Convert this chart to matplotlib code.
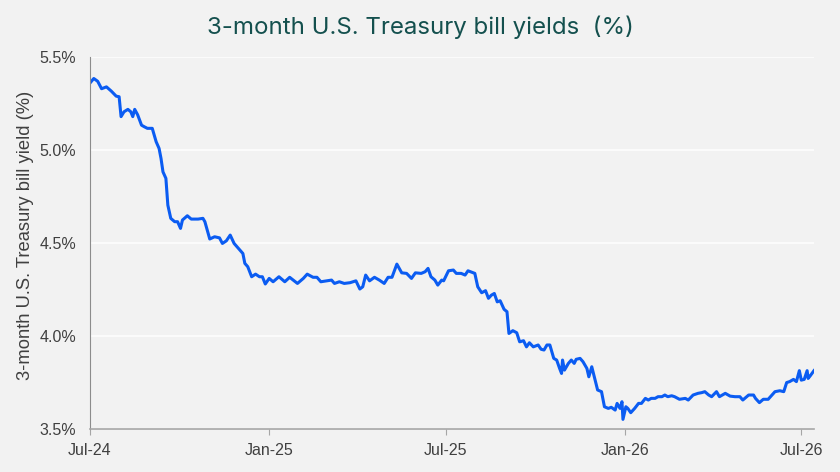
import numpy as np
import pandas as pd
import matplotlib
matplotlib.use("Agg")
import matplotlib.pyplot as plt
import matplotlib.dates as mdates
from matplotlib.ticker import FuncFormatter

# ---- data (days after 2024-07-01, yield in %) ----
start = pd.Timestamp("2024-07-01")
days = [0, 4, 8, 12, 17, 22, 27, 30, 32, 35, 39, 42, 44, 46, 49, 53, 56, 59, 64, 68,
        71, 73, 75, 78, 80, 83, 87, 90, 93, 95, 100, 104, 111, 116, 118, 123, 128, 133, 136, 140,
        144, 148, 154, 157, 159, 162, 166, 170, 174, 177, 180, 184, 188, 194, 200, 205, 213, 219, 223, 229,
        233, 237, 243, 248, 251, 256, 261, 267, 273, 277, 280, 283, 287, 292, 297, 302, 306, 310, 315, 320,
        325, 330, 334, 340, 344, 347, 350, 354, 357, 361, 363, 368, 373, 376, 381, 385, 388, 395, 398, 402,
        406, 409, 412, 415, 418, 421, 425, 428, 430, 434, 438, 441, 445, 448, 451, 455, 460, 463, 466, 469,
        472, 476, 479, 482, 484, 485, 487, 491, 494, 497, 499, 503, 506, 510, 512, 515, 518, 521, 525, 528,
        532, 535, 539, 541, 544, 546, 547, 550, 552, 555, 559, 563, 566, 570, 573, 576, 580, 583, 587, 590,
        593, 597, 600, 605, 611, 614, 619, 624, 628, 631, 635, 638, 643, 646, 652, 657, 662, 667, 670, 676,
        681, 683, 687, 691, 696, 700, 703, 708, 712, 715, 718, 722, 725, 728, 730, 733, 736, 737, 739, 743]
yields = [5.36, 5.385, 5.37, 5.33, 5.34, 5.317, 5.29, 5.287, 5.18, 5.206, 5.219, 5.206, 5.18, 5.219, 5.19, 5.134, 5.125, 5.117, 5.117, 5.045,
          5.009, 4.955, 4.883, 4.848, 4.704, 4.633, 4.615, 4.615, 4.579, 4.624, 4.647, 4.629, 4.629, 4.633, 4.615, 4.522, 4.534, 4.528, 4.498, 4.512,
          4.543, 4.498, 4.462, 4.444, 4.391, 4.373, 4.319, 4.333, 4.319, 4.319, 4.280, 4.31, 4.292, 4.319, 4.292, 4.316, 4.283, 4.31, 4.333, 4.316,
          4.316, 4.292, 4.297, 4.301, 4.283, 4.292, 4.283, 4.287, 4.297, 4.253, 4.265, 4.328, 4.297, 4.316, 4.301, 4.283, 4.316, 4.316, 4.387, 4.34,
          4.337, 4.31, 4.34, 4.337, 4.346, 4.364, 4.319, 4.301, 4.274, 4.301, 4.297, 4.351, 4.355, 4.337, 4.337, 4.328, 4.351, 4.337, 4.265, 4.233,
          4.244, 4.203, 4.22, 4.229, 4.184, 4.19, 4.144, 4.131, 4.014, 4.029, 4.018, 3.969, 3.975, 3.942, 3.964, 3.942, 3.952, 3.929, 3.925, 3.952,
          3.952, 3.88, 3.871, 3.826, 3.799, 3.871, 3.817, 3.853, 3.871, 3.853, 3.875, 3.88, 3.862, 3.826, 3.781, 3.835, 3.773, 3.71, 3.701, 3.62,
          3.611, 3.617, 3.602, 3.638, 3.611, 3.647, 3.552, 3.62, 3.611, 3.588, 3.611, 3.638, 3.638, 3.665, 3.656, 3.665, 3.665, 3.674, 3.674, 3.683,
          3.674, 3.679, 3.674, 3.66, 3.665, 3.656, 3.683, 3.692, 3.696, 3.701, 3.683, 3.674, 3.701, 3.674, 3.692, 3.677, 3.674, 3.674, 3.656, 3.683,
          3.683, 3.665, 3.642, 3.66, 3.66, 3.683, 3.701, 3.706, 3.701, 3.75, 3.755, 3.767, 3.755, 3.814, 3.763, 3.767, 3.814, 3.772, 3.785, 3.814]

tick_dates = ["2024-07-01", "2025-01-01", "2025-07-01", "2026-01-01", "2026-07-01"]
tick_labels = ["Jul-24", "Jan-25", "Jul-25", "Jan-26", "Jul-26"]
y_ticks = [3.5, 4.0, 4.5, 5.0, 5.5]

title = "3-month U.S. Treasury bill yields  (%)"
y_label = "3-month U.S. Treasury bill yield (%)"

# ---- styling ----
bg = "#f2f2f2"
line_color = "#0b5cf2"
text_gray = "#404040"
plt.rcParams["font.family"] = ["Liberation Sans", "DejaVu Sans"]

dates = start + pd.to_timedelta(days, unit="D")

fig = plt.figure(figsize=(8.4, 4.72), dpi=100, facecolor=bg)
ax = fig.add_axes([0.107, 0.091, 0.862, 0.788], facecolor=bg)

ax.plot(dates, yields, color=line_color, linewidth=2.2, solid_joinstyle="round")

ax.set_ylim(3.5, 5.5)
ax.set_yticks(y_ticks)
ax.yaxis.set_major_formatter(FuncFormatter(lambda v, p: f"{v:.1f}%"))
ax.set_xlim(start, start + pd.Timedelta(days=743))
ax.set_xticks(pd.to_datetime(tick_dates))
ax.set_xticklabels(tick_labels)

ax.grid(axis="y", color="white", linewidth=1.1)
ax.set_axisbelow(True)
for s in ["top", "right"]:
    ax.spines[s].set_visible(False)
ax.spines["left"].set_color("#8c8c8c")
ax.spines["bottom"].set_color("#a6a6a6")
ax.spines["bottom"].set_linewidth(1.2)

ax.tick_params(axis="y", length=0, pad=10, labelsize=11.5, labelcolor=text_gray)
ax.tick_params(axis="x", length=4, color="#a6a6a6", pad=6, labelsize=11.5, labelcolor=text_gray)

ax.set_ylabel(y_label, fontsize=13.2, color=text_gray)
ax.yaxis.set_label_coords(-0.077, 0.52)
fig.text(0.5, 0.943, title, ha="center", va="center", fontsize=17.3, color="#14504e",
         family=["Inter", "DejaVu Sans"])

fig.savefig("out.png", dpi=100, facecolor=bg)
